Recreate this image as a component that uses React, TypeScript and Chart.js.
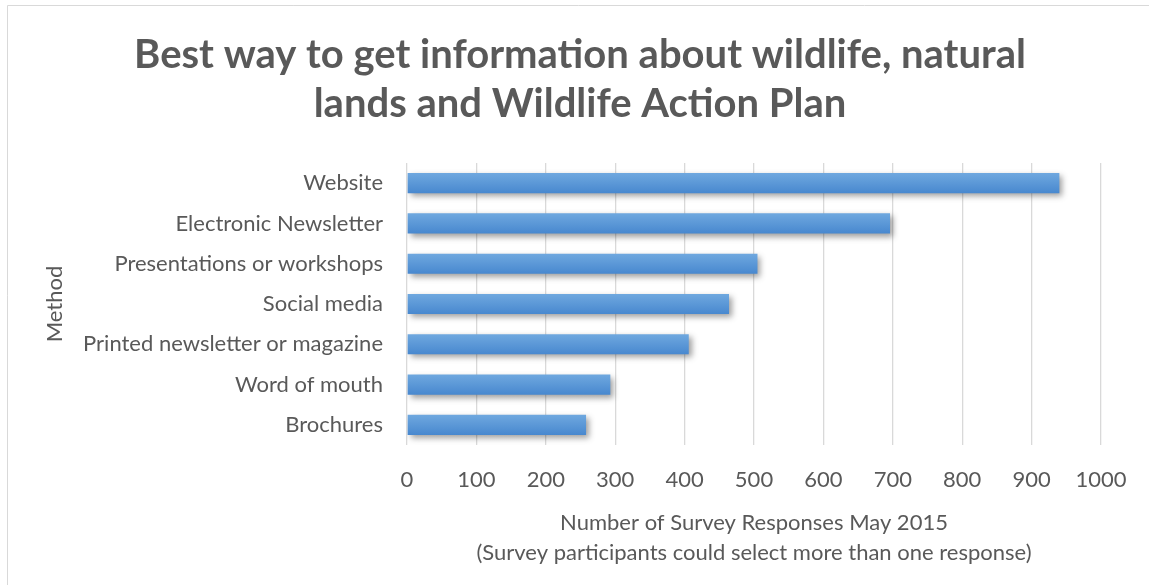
import React, { useEffect, useRef } from "react";
import { Chart, registerables } from "chart.js";

Chart.register(...registerables);

const categories = [
  "Website",
  "Electronic Newsletter",
  "Presentations or workshops",
  "Social media",
  "Printed newsletter or magazine",
  "Word of mouth",
  "Brochures",
];
const responses = [940, 696, 505, 464, 406, 293, 258];
const titleLines = [
  "Best way to get information about wildlife, natural",
  "lands and Wildlife Action Plan",
];
const xTitleLines = [
  "Number of Survey Responses May 2015",
  "(Survey participants could select more than one response)",
];
const yTitle = "Method";

const TEXT = "#595959";
const FONT = "Lato";

export default function App() {
  const ref = useRef<HTMLCanvasElement | null>(null);

  useEffect(() => {
    if (!ref.current) return;

    const framePlugin = {
      id: "frame",
      beforeDraw(chart: any) {
        const ctx = chart.ctx;
        ctx.save();
        ctx.fillStyle = "#ffffff";
        ctx.fillRect(0, 0, chart.width, chart.height);
        ctx.strokeStyle = "#d9d9d9";
        ctx.lineWidth = 1;
        ctx.beginPath();
        ctx.moveTo(7.5, chart.height + 2);
        ctx.lineTo(7.5, 5.5);
        ctx.lineTo(chart.width + 2, 5.5);
        ctx.stroke();
        ctx.fillStyle = TEXT;
        ctx.font = `bold 40px ${FONT}`;
        ctx.textAlign = "center";
        ctx.textBaseline = "middle";
        titleLines.forEach((t, i) => ctx.fillText(t, 580, 55 + i * 49));
        ctx.restore();
      },
    };

    const shadowPlugin = {
      id: "barShadow",
      beforeDatasetDraw(chart: any) {
        const ctx = chart.ctx;
        ctx.save();
        ctx.shadowColor = "rgba(0,0,0,0.38)";
        ctx.shadowBlur = 6;
        ctx.shadowOffsetX = 3;
        ctx.shadowOffsetY = 3;
      },
      afterDatasetDraw(chart: any) {
        chart.ctx.restore();
      },
    };

    const chart = new Chart(ref.current, {
      type: "bar",
      data: {
        labels: categories,
        datasets: [
          {
            data: responses,
            backgroundColor: (c: any) => {
              const chartObj = c.chart;
              const ys = chartObj.scales?.y;
              if (!ys || c.dataIndex === undefined) return "#5b9bd5";
              const yc = ys.getPixelForValue(c.dataIndex);
              if (!Number.isFinite(yc)) return "#5b9bd5";
              const g = chartObj.ctx.createLinearGradient(0, yc - 10, 0, yc + 10);
              g.addColorStop(0, "#6fa8df");
              g.addColorStop(1, "#4888cf");
              return g;
            },
            borderWidth: 0,
            categoryPercentage: 1,
            barPercentage: 0.5,
          },
        ],
      },
      options: {
        indexAxis: "y",
        responsive: false,
        animation: false,
        events: [],
        layout: { padding: { top: 163, right: 48, bottom: 0, left: 40 } },
        plugins: {
          legend: { display: false },
          title: { display: false },
          tooltip: { enabled: false },
        },
        scales: {
          x: {
            min: 0,
            max: 1000,
            ticks: {
              stepSize: 100,
              color: TEXT,
              padding: 22,
              font: { family: FONT, size: 22 },
              callback: (v: any) => String(v),
            },
            grid: { color: "#d9d9d9", lineWidth: 1.3, drawTicks: false },
            border: { display: false },
            title: {
              display: true,
              text: xTitleLines,
              color: TEXT,
              font: { family: FONT, size: 22, lineHeight: "30px" },
              padding: { top: 0, bottom: 17 },
            },
            afterFit(scale: any) {
              scale.height = 140;
            },
          },
          y: {
            ticks: {
              color: TEXT,
              padding: 24,
              font: { family: FONT, size: 22 },
            },
            grid: { display: false, drawTicks: false },
            border: { display: false },
            title: {
              display: true,
              text: yTitle,
              color: TEXT,
              font: { family: FONT, size: 22 },
              padding: { top: 2, bottom: 0 },
            },
            afterFit(scale: any) {
              scale.width = 367;
            },
          },
        },
      },
      plugins: [framePlugin, shadowPlugin],
    });

    return () => chart.destroy();
  }, []);

  return (
    <div style={{ position: "absolute", left: 0, top: 0, width: 1149, height: 585 }}>
      <canvas ref={ref} width={1149} height={585} style={{ width: 1149, height: 585 }} />
    </div>
  );
}
